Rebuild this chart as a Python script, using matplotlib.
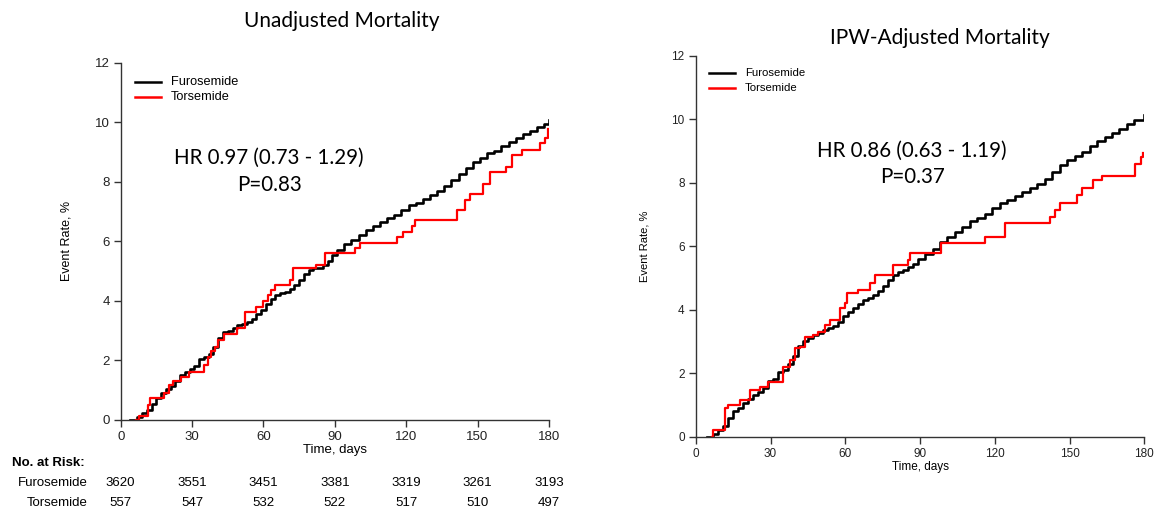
import matplotlib.pyplot as plt

# ---- data (time in days, event rate in %) ----
unadj_furo_t = [4, 7, 9, 11, 13, 15, 17, 19, 21, 23, 25, 27, 29, 31, 33, 35, 37, 39, 41, 43, 45,
                47, 49, 51, 53, 55, 57, 59, 61, 63, 65, 67, 69, 71, 73, 75, 77, 79, 81, 83, 85,
                87, 89, 91, 94, 97, 100, 103, 106, 109, 112, 115, 118, 121, 124, 127, 130, 133,
                136, 139, 142, 145, 148, 151, 154, 157, 160, 163, 166, 169, 172, 175, 178, 180]
unadj_furo_y = [0, 0.1, 0.25, 0.35, 0.55, 0.75, 0.9, 1.05, 1.15, 1.3, 1.5, 1.6, 1.72, 1.8, 2.05,
                2.1, 2.2, 2.45, 2.75, 2.95, 3.0, 3.08, 3.18, 3.22, 3.3, 3.4, 3.55, 3.7, 3.9, 4.05,
                4.2, 4.25, 4.3, 4.4, 4.55, 4.7, 4.9, 5.05, 5.1, 5.12, 5.2, 5.35, 5.55, 5.7, 5.9,
                6.05, 6.2, 6.38, 6.5, 6.65, 6.78, 6.9, 7.05, 7.22, 7.3, 7.42, 7.55, 7.7, 7.85,
                8.05, 8.25, 8.45, 8.65, 8.8, 8.95, 9.05, 9.2, 9.35, 9.48, 9.6, 9.72, 9.85, 9.95,
                10.07]

unadj_tor_t = [6.5, 7.5, 11.5, 12.5, 18, 20.5, 22, 25.5, 28.5, 35, 36.5, 38, 39.5, 41, 43.5,
               48.7, 52.2, 57, 60, 62, 63.3, 65, 71, 72.5, 82, 86, 98.5, 100.5, 116, 118.7, 122.3,
               123.7, 141.2, 144.7, 146.8, 152.4, 155.2, 162, 164.3, 168.5, 176.2, 178.3, 179.7]
unadj_tor_y = [0, 0.15, 0.5, 0.73, 0.9, 1.16, 1.3, 1.45, 1.6, 1.85, 2.1, 2.3, 2.45, 2.7, 2.9,
               3.08, 3.63, 3.8, 4.0, 4.2, 4.36, 4.53, 4.7, 5.1, 5.2, 5.6, 5.77, 5.95, 6.15, 6.32,
               6.5, 6.7, 7.05, 7.38, 7.6, 7.94, 8.33, 8.5, 8.9, 9.06, 9.3, 9.48, 9.77]

ipw_furo_t = [4.5, 7, 9, 11, 13, 15, 17, 19, 21, 23, 25, 27, 29, 31, 33, 35, 37, 39, 41, 43, 45,
              47, 49, 51, 53, 55, 57, 59, 61, 63, 65, 67, 69, 71, 73, 75, 77, 79, 81, 83, 85, 87,
              89, 92, 95, 98, 101, 104, 107, 110, 113, 116, 119, 122, 125, 128, 131, 134, 137,
              140, 143, 146, 149, 152, 155, 158, 161, 164, 167, 170, 173, 176, 180]
ipw_furo_y = [0, 0.1, 0.22, 0.35, 0.6, 0.82, 0.92, 1.05, 1.18, 1.3, 1.42, 1.55, 1.75, 1.82, 2.05,
              2.1, 2.3, 2.55, 2.85, 3.0, 3.12, 3.2, 3.28, 3.35, 3.42, 3.5, 3.62, 3.8, 3.92, 4.05,
              4.18, 4.3, 4.38, 4.45, 4.58, 4.75, 4.95, 5.1, 5.18, 5.25, 5.35, 5.45, 5.6, 5.75,
              5.9, 6.12, 6.28, 6.45, 6.62, 6.78, 6.9, 7.02, 7.2, 7.35, 7.45, 7.58, 7.7, 7.82,
              7.95, 8.12, 8.35, 8.55, 8.72, 8.85, 8.98, 9.15, 9.3, 9.45, 9.58, 9.7, 9.85, 9.98,
              10.13]

ipw_tor_t = [6.5, 7.1, 11.7, 13.1, 17.8, 21.8, 25.8, 29.1, 35.2, 37.8, 39.8, 41.8, 43.8, 47.2,
             49.2, 51.8, 54, 57.9, 59.9, 60.5, 65, 70, 71.9, 79.2, 85, 85.9, 98.6, 116, 124,
             142.1, 144, 146.1, 153, 154.8, 159.4, 163, 176.1, 178.5, 179.5]
ipw_tor_y = [0, 0.21, 0.89, 1.0, 1.16, 1.47, 1.58, 1.73, 2.2, 2.42, 2.78, 2.84, 3.13, 3.2, 3.3,
             3.52, 3.67, 4.04, 4.2, 4.52, 4.62, 4.83, 5.09, 5.41, 5.57, 5.78, 6.09, 6.3, 6.72,
             6.93, 7.15, 7.35, 7.6, 7.82, 8.08, 8.2, 8.6, 8.82, 8.93]

risk_days = [0, 30, 60, 90, 120, 150, 180]
risk_furo = [3620, 3551, 3451, 3381, 3319, 3261, 3193]
risk_tor = [557, 547, 532, 522, 517, 510, 497]

x_ticks = [0, 30, 60, 90, 120, 150, 180]
y_ticks = [0, 2, 4, 6, 8, 10, 12]

SANS = 'Liberation Sans'
SLIDE = 'Lato'

fig = plt.figure(figsize=(11.65, 5.15), dpi=100)


def km_panel(rect, furo, tor, title, title_xy, hr, pval, hr_xy, leg_xy, leg_gap, fs):
    ax = fig.add_axes(rect)
    ax.step(furo[0], furo[1], where='post', color='black', lw=1.9)
    ax.step(tor[0], tor[1], where='post', color='#ff0000', lw=1.6)
    ax.set_xlim(0, 180)
    ax.set_ylim(0, 12)
    ax.set_xticks(x_ticks)
    ax.set_yticks(y_ticks)
    for s in ['top', 'right']:
        ax.spines[s].set_visible(False)
    for s in ['left', 'bottom']:
        ax.spines[s].set_color('#333333')
        ax.spines[s].set_linewidth(1.0)
    ax.tick_params(direction='out', length=5, width=1.0, color='#333333',
                   labelsize=fs, pad=3, labelcolor='#222222')
    for lab in ax.get_xticklabels() + ax.get_yticklabels():
        lab.set_family(SANS)
    ax.set_xlabel('Time, days', family=SANS, fontsize=fs, labelpad=1)
    ax.set_ylabel('Event Rate, %', family=SANS, fontsize=fs - 0.5, labelpad=16)

    # legend drawn as plain lines + text (R style, no frame)
    lx, ly = leg_xy
    for i, (name, col) in enumerate([('Furosemide', 'black'), ('Torsemide', '#ff0000')]):
        yy = ly - i * leg_gap
        fig.add_artist(plt.Line2D([lx, lx + 0.022], [yy, yy], color=col, lw=1.8,
                                  transform=fig.transFigure))
        fig.text(lx + 0.031, yy, name, family=SANS, fontsize=fs - 0.3,
                 va='center', ha='left')

    fig.text(title_xy[0], title_xy[1], title, family=SLIDE, fontsize=15,
             ha='center', va='center')
    fig.text(hr_xy[0], hr_xy[1], hr, family=SLIDE, fontsize=14.8, ha='center', va='center')
    fig.text(hr_xy[0], hr_xy[1] - 0.052, pval, family=SLIDE, fontsize=14.8,
             ha='center', va='center')
    return ax


ax1 = km_panel([0.1036, 0.1845, 0.3676, 0.6938], (unadj_furo_t, unadj_furo_y),
               (unadj_tor_t, unadj_tor_y), 'Unadjusted Mortality', (0.2936, 0.960),
               'HR 0.97 (0.73 - 1.29)', 'P=0.83', (0.231, 0.693), (0.116, 0.841), 0.030, 9.5)

ax2 = km_panel([0.5972, 0.152, 0.3851, 0.7398], (ipw_furo_t, ipw_furo_y),
               (ipw_tor_t, ipw_tor_y), 'IPW-Adjusted Mortality', (0.807, 0.926),
               'HR 0.86 (0.63 - 1.19)', 'P=0.37', (0.783, 0.708), (0.6085, 0.858), 0.028, 8.5)

# number-at-risk table under the left panel
fig.text(0.010, 1 - 463 / 515, 'No. at Risk:', family=SANS, fontsize=9.5,
         fontweight='bold', ha='left', va='center')
for row_y, name, vals in [(1 - 483 / 515, 'Furosemide', risk_furo),
                          (1 - 503 / 515, 'Torsemide', risk_tor)]:
    fig.text(0.075, row_y, name, family=SANS, fontsize=9.5, ha='right', va='center')
    for d, v in zip(risk_days, vals):
        xf = fig.transFigure.inverted().transform(ax1.transData.transform((d, 0)))[0]
        fig.text(xf, row_y, str(v), family=SANS, fontsize=9.5, ha='center', va='center')

fig.savefig('out.png', dpi=100)
